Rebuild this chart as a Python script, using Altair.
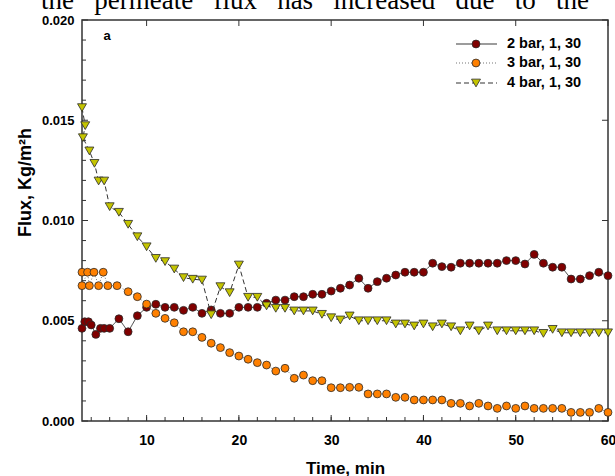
import altair as alt
import pandas as pd

# ---------------- data ----------------
series_names = ["2 bar, 1, 30", "3 bar, 1, 30", "4 bar, 1, 30"]

time_2bar = [3.0, 3.3, 3.7, 4.0, 4.5, 5.0, 5.4, 6.0] + list(range(7, 61))
flux_2bar = [0.00462, 0.00495, 0.00495, 0.00479, 0.00432, 0.00462, 0.00462, 0.00462,
             0.00510, 0.00445, 0.00525, 0.00567, 0.00582, 0.00567, 0.00567, 0.00552,
             0.00567, 0.00537, 0.00554, 0.00537, 0.00537, 0.00567, 0.00567, 0.00567,
             0.00587, 0.00603, 0.00603, 0.00620, 0.00620, 0.00632, 0.00632, 0.00648,
             0.00662, 0.00678, 0.00712, 0.00662, 0.00695, 0.00712, 0.00728, 0.00742,
             0.00742, 0.00742, 0.00787, 0.00770, 0.00767, 0.00787, 0.00787, 0.00787,
             0.00787, 0.00787, 0.00800, 0.00800, 0.00783, 0.00831, 0.00787, 0.00767,
             0.00767, 0.00708, 0.00708, 0.00725, 0.00742, 0.00725]

time_3bar = [3.0, 3.0, 3.6, 3.8, 4.3, 4.8, 5.3, 5.8, 6.8] + list(range(8, 61))
flux_3bar = [0.00742, 0.00675, 0.00742, 0.00675, 0.00742, 0.00675, 0.00742, 0.00675, 0.00675,
             0.00645, 0.00620, 0.00583, 0.00537, 0.00512, 0.00490, 0.00445, 0.00445,
             0.00417, 0.00388, 0.00366, 0.00341, 0.00324, 0.00308, 0.00291, 0.00279,
             0.00249, 0.00263, 0.00213, 0.00229, 0.00201, 0.00201, 0.00166, 0.00166,
             0.00168, 0.00168, 0.00135, 0.00135, 0.00135, 0.00118, 0.00118, 0.00105,
             0.00105, 0.00105, 0.00105, 0.00088, 0.00088, 0.00075, 0.00088, 0.00075,
             0.00063, 0.00075, 0.00063, 0.00075, 0.00063, 0.00063, 0.00063, 0.00063,
             0.00043, 0.00043, 0.00043, 0.00063, 0.00043]

time_4bar = [3.0, 3.35, 3.1, 3.8, 4.35, 4.8, 5.4] + list(range(6, 61))
flux_4bar = [0.01563, 0.01473, 0.01413, 0.01347, 0.01285, 0.01197, 0.01197,
             0.01069, 0.01041, 0.00981, 0.00919, 0.00869, 0.00811, 0.00795, 0.00758,
             0.00715, 0.00707, 0.00703, 0.00530, 0.00670, 0.00640, 0.00778, 0.00617,
             0.00617, 0.00574, 0.00562, 0.00562, 0.00549, 0.00549, 0.00549, 0.00532,
             0.00515, 0.00504, 0.00524, 0.00500, 0.00500, 0.00500, 0.00500, 0.00484,
             0.00484, 0.00474, 0.00484, 0.00470, 0.00484, 0.00470, 0.00450, 0.00474,
             0.00450, 0.00474, 0.00450, 0.00450, 0.00450, 0.00450, 0.00450, 0.00437,
             0.00457, 0.00440, 0.00440, 0.00440, 0.00440, 0.00440, 0.00440]

x_tick_labels = [10, 20, 30, 40, 50, 60]
x_minor_ticks = list(range(4, 61, 2))
y_tick_labels = [0.0, 0.005, 0.010, 0.015, 0.020]
y_minor_ticks = [0.001, 0.002, 0.003, 0.004, 0.006, 0.007, 0.008, 0.009, 0.011,
                 0.012, 0.013, 0.014, 0.016, 0.017, 0.018, 0.019]

header_words = ["the", "permeate", "flux", "has", "increased", "due", "to", "the"]
header_line = ("\u00a0" * 3).join(header_words)

# ---------------- styling ----------------
W, H = 526, 401
SANS = "Liberation Sans"
FRAME = "#333333"

styles = [
    dict(fill="#800000", shape="circle", size=62, dash=[1, 0], line="#3a3a3a"),
    dict(fill="#ff8000", shape="circle", size=62, dash=[1, 2], line="#777777"),
    dict(fill="#c4c400", shape="triangle-down", size=80, dash=[5, 3], line="#333333"),
]

x_scale = alt.Scale(domain=[3, 60], nice=False, zero=False)
y_scale = alt.Scale(domain=[0, 0.02], nice=False)

x_axis = alt.Axis(values=x_tick_labels, format="d", ticks=False, domain=False, grid=False,
                  labelFont=SANS, labelFontSize=14, labelFontWeight="bold",
                  labelColor="black", labelPadding=12, labelFlush=False,
                  title="Time, min", titleFont=SANS, titleFontSize=17,
                  titleFontWeight="bold", titleColor="black",
                  titleY=52, titleBaseline="alphabetic")
y_axis = alt.Axis(values=y_tick_labels, format=".3f", ticks=False, domain=False, grid=False,
                  labelFont=SANS, labelFontSize=13, labelFontWeight="bold",
                  labelColor="black", labelPadding=8,
                  title="Flux, Kg/m\u00b2h", titleFont=SANS, titleFontSize=18,
                  titleFontWeight="bold", titleColor="black", titleAngle=270,
                  titleX=-57, titleY=162, titleAlign="center", titleBaseline="middle")

X = alt.X("time:Q", scale=x_scale, axis=x_axis)
Y = alt.Y("flux:Q", scale=y_scale, axis=y_axis)

layers = []

# inward tick marks on the frame
tick_style = dict(color=FRAME, strokeWidth=1)
layers.append(alt.Chart(pd.DataFrame({"time": x_minor_ticks})).mark_rule(**tick_style)
              .encode(x=X, y=alt.value(H), y2=alt.value(H - 4)))
layers.append(alt.Chart(pd.DataFrame({"time": x_tick_labels})).mark_rule(**tick_style)
              .encode(x=X, y=alt.value(H), y2=alt.value(H - 6)))
layers.append(alt.Chart(pd.DataFrame({"time": x_tick_labels})).mark_rule(**tick_style)
              .encode(x=X, y=alt.value(0), y2=alt.value(6)))
layers.append(alt.Chart(pd.DataFrame({"flux": y_minor_ticks})).mark_rule(**tick_style)
              .encode(y=Y, x=alt.value(0), x2=alt.value(4)))
layers.append(alt.Chart(pd.DataFrame({"flux": y_tick_labels})).mark_rule(**tick_style)
              .encode(y=Y, x=alt.value(0), x2=alt.value(6)))
layers.append(alt.Chart(pd.DataFrame({"flux": y_tick_labels})).mark_rule(**tick_style)
              .encode(y=Y, x=alt.value(W), x2=alt.value(W - 6)))

# the three flux series: connecting line + markers
all_series = [(time_2bar, flux_2bar), (time_3bar, flux_3bar), (time_4bar, flux_4bar)]
for (t, f), st in zip(all_series, styles):
    df = pd.DataFrame({"time": t, "flux": f, "idx": list(range(len(t)))})
    layers.append(alt.Chart(df).mark_line(color=st["line"], strokeWidth=1,
                                          strokeDash=st["dash"])
                  .encode(x=X, y=Y, order="idx:Q"))
    layers.append(alt.Chart(df).mark_point(shape=st["shape"], size=st["size"], filled=True,
                                           fill=st["fill"], stroke="#2a2a2a",
                                           strokeWidth=0.8, opacity=1)
                  .encode(x=X, y=Y))

# legend in the upper right corner
legend_y = [24, 43, 63]
for name, st, ly in zip(series_names, styles, legend_y):
    one = pd.DataFrame({"label": [name]})
    layers.append(alt.Chart(one).mark_rule(color=st["line"], strokeWidth=1.2,
                                           strokeDash=st["dash"])
                  .encode(x=alt.value(374), x2=alt.value(415), y=alt.value(ly)))
    layers.append(alt.Chart(one).mark_point(shape=st["shape"], size=st["size"], filled=True,
                                            fill=st["fill"], stroke="#2a2a2a",
                                            strokeWidth=0.8, opacity=1)
                  .encode(x=alt.value(394), y=alt.value(ly)))
    layers.append(alt.Chart(one).mark_text(align="left", baseline="middle", font=SANS,
                                           fontSize=14.5, fontWeight="bold", color="black")
                  .encode(x=alt.value(425), y=alt.value(ly), text="label:N"))

# panel letter
layers.append(alt.Chart(pd.DataFrame({"label": ["a"]}))
              .mark_text(align="center", baseline="middle", font=SANS, fontSize=13,
                         fontWeight="bold", color="black")
              .encode(x=alt.value(25), y=alt.value(16), text="label:N"))

# running text line above the figure
layers.append(alt.Chart(pd.DataFrame({"label": [header_line]}))
              .mark_text(align="center", baseline="alphabetic", font="Liberation Serif",
                         fontSize=27, color="black")
              .encode(x=alt.value(233), y=alt.value(-11), text="label:N"))

chart = (
    alt.layer(*layers)
    .properties(width=W, height=H,
                padding={"left": 82, "top": 20, "right": 7, "bottom": 55},
                autosize=alt.AutoSizeParams(type="none"))
    .configure_view(stroke=FRAME, strokeWidth=1.5)
)

chart.save("out.html", embed_options={"renderer": "svg", "actions": False})
